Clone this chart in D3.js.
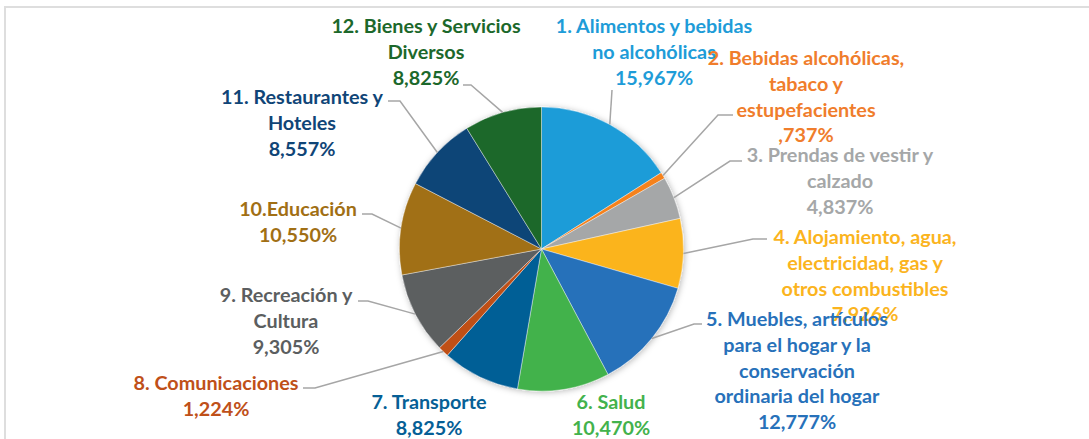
<!DOCTYPE html>
<html>
<head>
<meta charset="utf-8">
<script src="https://cdn.jsdelivr.net/npm/d3@7"></script>
<style>
  html, body { margin: 0; padding: 0; background: #fff; }
  svg { display: block; }
  .lbl { font-family: Lato, 'Open Sans', sans-serif; font-weight: 700; }
</style>
</head>
<body>
<svg id="chart"></svg>
<script>
// categorias (una linea por renglon de la etiqueta)
const categories = [
	['1. Alimentos y bebidas', 'no alcohólicas'],
	['2. Bebidas alcohólicas,', 'tabaco y', 'estupefacientes'],
	['3. Prendas de vestir y', 'calzado'],
	['4. Alojamiento, agua,', 'electricidad, gas y', 'otros combustibles'],
	['5. Muebles, artículos', 'para el hogar y la', 'conservación', 'ordinaria del hogar'],
	['6. Salud'],
	['7. Transporte'],
	['8. Comunicaciones'],
	['9. Recreación y', 'Cultura'],
	['10.Educación'],
	['11. Restaurantes y', 'Hoteles'],
	['12. Bienes y Servicios', 'Diversos']
]
const values = [15.967, 0.737, 4.837, 7.926, 12.777, 10.470, 8.825, 1.224, 9.305, 10.550, 8.557, 8.825]
const colors = ['#1e9cd8', '#f5821f', '#a5a7a8', '#fbb41e', '#2771ba', '#43b24c',
	'#065f96', '#bf5019', '#5b5e60', '#a16f14', '#104577', '#1c682b']
const textColors = ['#1e9cd8', '#f07d2c', '#a5a7a8', '#fbb41e', '#2771ba', '#43b24c',
	'#065f96', '#bf5019', '#5b5e60', '#a16f14', '#104577', '#1c682b']

const width = 1089, height = 439
const cx = 541.5, cy = 249, radius = 142
const lineH = 25.8

// posicion de cada etiqueta: centro x, centro y del primer renglon
const labelPos = [[654, 26], [806, 58], [840, 155], [865, 237], [797, 319], [611, 402],
	[429, 402], [216, 383], [286, 295], [298, 209], [302, 97], [426, 26]]
// codo y fin de cada linea guia (null = sin linea)
const leaders = [
	[[612, 90]],
	[[718, 115], [733, 115]],
	[[730, 161], [742, 161]],
	[[753, 239], [767, 239]],
	[[694, 324], [702, 324]],
	null,
	null,
	[[315, 388], [303, 388]],
	[[368, 301], [358, 301]],
	[[372, 214], [362, 214]],
	[[400, 101], [388, 101]],
	[[471, 85], [463, 85]]
]

const fmt = (v) => v.toFixed(3).replace('.', ',').replace(/^0,/, ',') + '%'

const svg = d3.select('#chart').attr('width', width).attr('height', height)

// marco
svg.append('rect')
	.attr('x', 5).attr('y', 7)
	.attr('width', width + 10).attr('height', height + 10)
	.attr('fill', 'none')
	.attr('stroke', '#dedede')
	.attr('stroke-width', 2)

const defs = svg.append('defs')
const shadow = defs.append('filter').attr('id', 'shadow')
	.attr('x', '-10%').attr('y', '-10%').attr('width', '120%').attr('height', '120%')
shadow.append('feDropShadow')
	.attr('dx', 1).attr('dy', 1).attr('stdDeviation', 3)
	.attr('flood-color', '#000').attr('flood-opacity', 0.28)

const pie = d3.pie().sort(null).value((d) => d)
const arcs = pie(values)
const arc = d3.arc().innerRadius(0).outerRadius(radius)

const g = svg.append('g').attr('transform', `translate(${cx},${cy})`)
g.append('g').attr('filter', 'url(#shadow)')
	.selectAll('path')
	.data(arcs)
	.join('path')
	.attr('d', arc)
	.attr('fill', (d, i) => colors[i])
	.attr('stroke', '#fff')
	.attr('stroke-width', 0.4)

// lineas guia
const edgePoint = (d) => {
	let a = (d.startAngle + d.endAngle) / 2
	return [cx + radius * Math.sin(a), cy - radius * Math.cos(a)]
}
svg.append('g')
	.selectAll('path')
	.data(arcs.filter((d, i) => leaders[i]))
	.join('path')
	.attr('d', (d) => d3.line()([edgePoint(d), ...leaders[d.index]]))
	.attr('fill', 'none')
	.attr('stroke', '#a6a6a6')
	.attr('stroke-width', 1.5)

// etiquetas
const labels = svg.append('g')
arcs.forEach((d, i) => {
	let lines = categories[i].concat([fmt(values[i])])
	let t = labels.append('text')
		.attr('class', 'lbl')
		.attr('text-anchor', 'middle')
		.attr('fill', textColors[i])
		.attr('font-size', 19.8)
	lines.forEach((s, k) => {
		t.append('tspan')
			.attr('x', labelPos[i][0])
			.attr('y', labelPos[i][1] + k * lineH)
			.attr('dy', '0.35em')
			.text(s)
	})
})
</script>
</body>
</html>
